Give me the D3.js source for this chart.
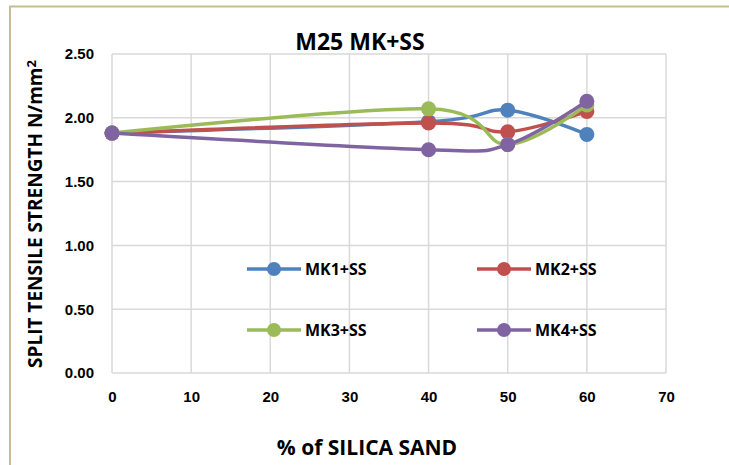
<!DOCTYPE html>
<html>
<head>
<meta charset="utf-8">
<script src="https://cdn.jsdelivr.net/npm/d3@7"></script>
<style>
  body { margin: 0; background: #fff; }
  svg { display: block; font-family: 'Open Sans', 'DejaVu Sans', sans-serif; }
  .tick text { font-weight: bold; font-size: 15px; fill: #000; }
  .grid line { stroke: #d9d9d9; stroke-width: 1.5; }
  .label { font-weight: bold; fill: #000; }
</style>
</head>
<body>
<div id="chart"></div>
<script>
// data
var silica = [0, 40, 50, 60];
var mk1 = [1.88, 1.97, 2.06, 1.87];
var mk2 = [1.88, 1.96, 1.89, 2.05];
var mk3 = [1.88, 2.07, 1.79, 2.10];
var mk4 = [1.88, 1.75, 1.79, 2.13];
var seriesNames = ['MK1+SS', 'MK2+SS', 'MK3+SS', 'MK4+SS'];
var seriesColors = ['#4f81bd', '#c0504d', '#9bbb59', '#8064a2'];
var xTicks = [0, 10, 20, 30, 40, 50, 60, 70];
var yTicks = [0, 0.5, 1, 1.5, 2, 2.5];

var W = 729, H = 465;
var margin = { top: 54, left: 112, bottom: 92, right: 63 },
  width = W - margin.left - margin.right,
  height = H - margin.top - margin.bottom;

var root = d3.select('#chart').append('svg')
  .attr('width', W)
  .attr('height', H);

// outer frame (only top and left edges are in view)
root.append('path')
  .attr('d', 'M10,' + H + 'V6.5H' + W)
  .attr('fill', 'none')
  .attr('stroke', '#c8bd92')
  .attr('stroke-width', 2);

var svg = root.append('g')
  .attr('transform', 'translate(' + margin.left + ',' + margin.top + ')');

var x = d3.scaleLinear().domain([0, 70]).range([0, width]);
var y = d3.scaleLinear().domain([0, 2.5]).range([height, 0]);

// grid
svg.append('g').attr('class', 'grid')
  .selectAll('line').data(yTicks).enter().append('line')
  .attr('x1', 0).attr('x2', width)
  .attr('y1', d => y(d)).attr('y2', d => y(d));

svg.append('g').attr('class', 'grid')
  .selectAll('line').data(xTicks).enter().append('line')
  .attr('y1', 0).attr('y2', height)
  .attr('x1', d => x(d)).attr('x2', d => x(d));

// axes
var xAxis = d3.axisBottom(x).tickValues(xTicks).tickSize(0).tickPadding(18).tickFormat(d3.format('d'));
svg.append('g')
  .attr('transform', 'translate(0,' + height + ')')
  .call(xAxis)
  .call(g => g.select('.domain').remove());

var yAxis = d3.axisLeft(y).tickValues(yTicks).tickSize(0).tickPadding(18).tickFormat(d3.format('.2f'));
svg.append('g')
  .call(yAxis)
  .call(g => g.select('.domain').remove());

// lines
var series = [mk1, mk2, mk3, mk4];
var line = d3.line()
  .x((d, i) => x(silica[i]))
  .y(d => y(d))
  .curve(d3.curveCardinal.tension(0));

series.forEach(function (vals, k) {
  svg.append('path')
    .datum(vals)
    .attr('fill', 'none')
    .attr('stroke', seriesColors[k])
    .attr('stroke-width', 3.5)
    .attr('stroke-linecap', 'round')
    .attr('d', line);
  svg.selectAll('.dot' + k)
    .data(vals).enter().append('circle')
    .attr('class', 'dot' + k)
    .attr('cx', (d, i) => x(silica[i]))
    .attr('cy', d => y(d))
    .attr('r', 7.5)
    .attr('fill', seriesColors[k]);
});

// legend
var legendPos = [[247, 269], [477, 269], [247, 330], [477, 330]];
seriesNames.forEach(function (name, k) {
  var g = root.append('g')
    .attr('transform', 'translate(' + legendPos[k][0] + ',' + legendPos[k][1] + ')');
  g.append('line')
    .attr('x1', 0).attr('x2', 54)
    .attr('stroke', seriesColors[k])
    .attr('stroke-width', 3.5);
  g.append('circle')
    .attr('cx', 27).attr('r', 7)
    .attr('fill', seriesColors[k]);
  g.append('text')
    .attr('class', 'label')
    .attr('x', 58).attr('dy', '0.35em')
    .style('font-size', '16px')
    .text(name);
});

// title
root.append('text')
  .attr('class', 'label')
  .attr('x', 360).attr('y', 50)
  .attr('text-anchor', 'middle')
  .style('font-size', '23px')
  .text('M25 MK+SS');

// x label
root.append('text')
  .attr('class', 'label')
  .attr('x', 367).attr('y', 455)
  .attr('text-anchor', 'middle')
  .style('font-size', '21px')
  .text('% of SILICA SAND');

// y label
var yl = root.append('text')
  .attr('class', 'label')
  .attr('transform', 'translate(42,214) rotate(-90)')
  .attr('text-anchor', 'middle')
  .style('font-size', '19px');
yl.append('tspan').text('SPLIT TENSILE STRENGTH N/mm');
yl.append('tspan').attr('dy', '-0.45em').style('font-size', '13px').text('2');
</script>
</body>
</html>
